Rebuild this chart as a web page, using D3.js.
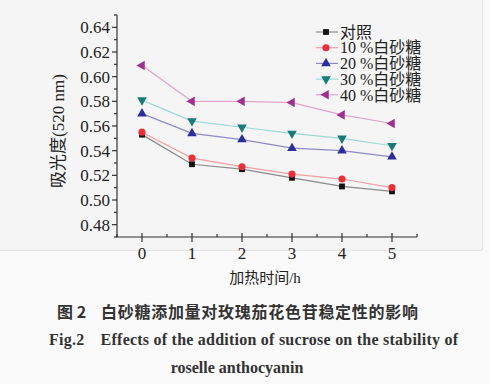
<!DOCTYPE html>
<html><head><meta charset="utf-8">
<script src="https://cdn.jsdelivr.net/npm/d3@7"></script>
<style>body{margin:0;background:#fafafa;}svg{display:block;}
.sf{font-family:"Liberation Serif","Times New Roman",Times,serif;}
.cj{font-family:"Liberation Serif","Times New Roman","Noto Sans CJK SC",serif;}
.hz{font-family:"Noto Sans CJK SC",sans-serif;}
</style>
</head><body>
<svg id="c" width="490" height="384"></svg>
<script>
const hours = [0, 1, 2, 3, 4, 5];
const seriesNames = ["对照", "10 %白砂糖", "20 %白砂糖", "30 %白砂糖", "40 %白砂糖"];
const ctrl = [0.553, 0.529, 0.525, 0.518, 0.511, 0.507];
const s10 = [0.555, 0.534, 0.527, 0.521, 0.517, 0.510];
const s20 = [0.570, 0.554, 0.549, 0.542, 0.540, 0.535];
const s30 = [0.581, 0.564, 0.559, 0.554, 0.550, 0.544];
const s40 = [0.609, 0.580, 0.580, 0.579, 0.569, 0.562];
const yTicks = [0.48, 0.50, 0.52, 0.54, 0.56, 0.58, 0.60, 0.62, 0.64];
const xTicks = [0, 1, 2, 3, 4, 5];

const seriesValues = [ctrl, s10, s20, s30, s40];
const markerColors = ["#111111", "#e8303a", "#2e2e9a", "#1a7a78", "#a0308f"];
const lineColors = ["#8a8a8a", "#f0a0a4", "#8c8cc4", "#9fd8d8", "#e2a4cc"];
const symbols = [d3.symbolSquare, d3.symbolCircle, d3.symbolTriangle, d3.symbolTriangle, d3.symbolTriangle];
const rotations = [0, 0, 0, 180, 270];
const sizes = [34, 40, 40, 40, 40];

const svg = d3.select("#c");
svg.append("rect").attr("x",0).attr("y",0).attr("width",482).attr("height",250).attr("fill","#f5f5f5");
svg.append("line").attr("x1",0).attr("x2",482).attr("y1",250.5).attr("y2",250.5).attr("stroke","#e4e4e4");
svg.append("line").attr("x1",482.5).attr("x2",482.5).attr("y1",0).attr("y2",250).attr("stroke","#e4e4e4");

const x = d3.scaleLinear().domain([-0.5, 5.5]).range([117, 417]);
const y = d3.scaleLinear().domain([0.47, 0.65]).range([237, 15]);

// axes
const ga = svg.append("g").attr("stroke","#333").attr("stroke-width",1.2);
ga.append("line").attr("x1",x(-0.5)).attr("x2",x(-0.5)).attr("y1",y(0.65)).attr("y2",y(0.47));
ga.append("line").attr("x1",x(-0.5)).attr("x2",x(5.5)).attr("y1",y(0.47)).attr("y2",y(0.47));
d3.range(0.47, 0.6501, 0.01).forEach(v => {
  const major = yTicks.some(t => Math.abs(t - v) < 1e-6);
  ga.append("line").attr("x1",x(-0.5) - (major?5:3)).attr("x2",x(-0.5)).attr("y1",y(v)).attr("y2",y(v));
});
yTicks.forEach(t => {
  svg.append("text").attr("class","sf").attr("x", x(-0.5)-7).attr("y", y(t)).attr("dy","0.35em")
    .attr("text-anchor","end").attr("font-size",17).attr("fill","#222")
    .text(t.toFixed(2));
});
d3.range(-0.5, 5.51, 0.5).forEach(v => {
  const major = xTicks.some(t => Math.abs(t - v) < 1e-6);
  if (major) ga.append("line").attr("x1",x(v)).attr("x2",x(v)).attr("y1",y(0.47)-4).attr("y2",y(0.47)+5);
  else ga.append("line").attr("x1",x(v)).attr("x2",x(v)).attr("y1",y(0.47)-3).attr("y2",y(0.47));
});
xTicks.forEach(t => {
  svg.append("text").attr("class","sf").attr("x", x(t)).attr("y", 259).attr("text-anchor","middle")
    .attr("font-size",17).attr("fill","#222").text(t);
});
svg.append("text").attr("class","cj").attr("x",265).attr("y",283).attr("text-anchor","middle")
  .attr("font-size",15).attr("fill","#222").text("加热时间/h");
svg.append("text").attr("class","cj").attr("transform","translate(64,131) rotate(-90)").attr("text-anchor","middle")
  .attr("font-size",17).attr("fill","#222").text("吸光度(520 nm)");

// series
const line = d3.line().x((d,i) => x(hours[i])).y(d => y(d));
seriesValues.forEach((vals, k) => {
  svg.append("path").datum(vals).attr("d", line).attr("fill","none")
    .attr("stroke", lineColors[k]).attr("stroke-width",1.2);
});
seriesValues.forEach((vals, k) => {
  const sym = d3.symbol().type(symbols[k]).size(sizes[k]);
  svg.selectAll(null).data(vals).enter().append("path")
    .attr("d", sym)
    .attr("transform",(d,i) => `translate(${x(hours[i])},${y(d)}) rotate(${rotations[k]})`)
    .attr("fill", markerColors[k]);
});

// legend
seriesNames.forEach((n, k) => {
  const ly = 32 + k * 15.7;
  svg.append("line").attr("x1",316).attr("x2",338).attr("y1",ly).attr("y2",ly)
    .attr("stroke", lineColors[k]).attr("stroke-width",1.2);
  svg.append("path").attr("d", d3.symbol().type(symbols[k]).size(sizes[k])())
    .attr("transform",`translate(326,${ly}) rotate(${rotations[k]})`).attr("fill", markerColors[k]);
  svg.append("text").attr("class","cj").attr("x",340).attr("y",ly).attr("dy","0.36em")
    .attr("font-size",16).attr("fill","#222").text(n);
});

// captions
svg.append("text").attr("class","hz").attr("x",57).attr("y",318)
  .attr("font-size",16).attr("font-weight","bold").attr("fill","#333").text("图 2");
svg.append("text").attr("class","hz").attr("x",101).attr("y",318)
  .attr("font-size",16).attr("font-weight","bold").attr("fill","#333")
  .attr("textLength",317).attr("lengthAdjust","spacing").text("白砂糖添加量对玫瑰茄花色苷稳定性的影响");
svg.append("text").attr("class","sf").attr("x",49).attr("y",345)
  .attr("font-size",16).attr("font-weight","bold").attr("fill","#333")
  .attr("textLength",409).attr("lengthAdjust","spacing")
  .text("Fig.2　Effects of the addition of sucrose on the stability of");
svg.append("text").attr("class","sf").attr("x",237).attr("y",373).attr("text-anchor","middle")
  .attr("font-size",16).attr("font-weight","bold").attr("fill","#333").text("roselle anthocyanin");
</script>
</body></html>
